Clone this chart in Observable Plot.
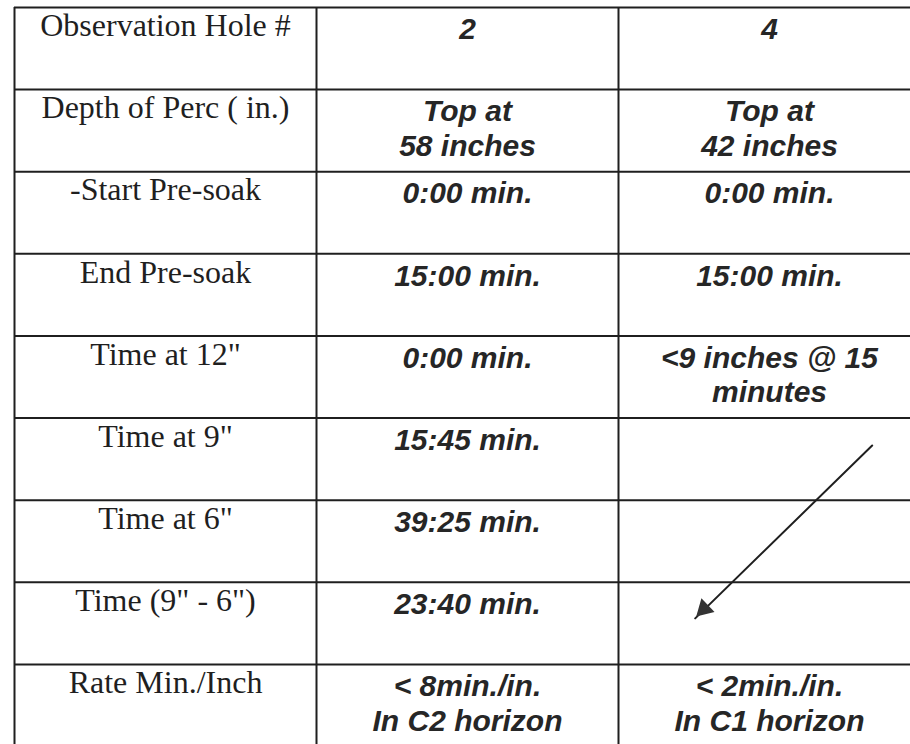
<!DOCTYPE html>
<html>
<head>
<meta charset="utf-8">
<script src="https://cdn.jsdelivr.net/npm/d3@7"></script>
<script src="https://cdn.jsdelivr.net/npm/@observablehq/plot@0.6"></script>
<style>
  html, body { margin: 0; padding: 0; background: #ffffff; }
  svg { display: block; }
</style>
</head>
<body>
<div id="chart"></div>
<script>
// Table content
const rowLabels = [
  "Observation Hole #",
  "Depth of Perc ( in.)",
  "-Start Pre-soak",
  "End Pre-soak",
  "Time at 12\"",
  "Time at 9\"",
  "Time at 6\"",
  "Time (9\" - 6\")",
  "Rate Min./Inch"
];
const hole2 = [
  "2",
  "Top at\n58 inches",
  "0:00 min.",
  "15:00 min.",
  "0:00 min.",
  "15:45 min.",
  "39:25 min.",
  "23:40 min.",
  "< 8min./in.\nIn C2 horizon"
];
const hole4 = [
  "4",
  "Top at\n42 inches",
  "0:00 min.",
  "15:00 min.",
  "<9 inches @ 15\nminutes",
  "",
  "",
  "",
  "< 2min./in.\nIn C1 horizon"
];
// hand-drawn arrow in the hole-4 column (column / row units)
const arrowFrom = {col: 2.84, row: 5.334};
const arrowTo = {col: 2.254, row: 7.44};

const nRows = rowLabels.length;
const colEdges = [0, 1, 2, 3];
const rowEdges = d3.range(nRows + 1);

const labelCells = rowLabels.map((t, i) => ({col: 0.5, row: i, text: t}));
const valueCells = [
  ...hole2.map((t, i) => ({col: 1.5, row: i, text: t})),
  ...hole4.map((t, i) => ({col: 2.5, row: i, text: t}))
].filter(d => d.text !== "");
const arrowData = [{x1: arrowFrom.col, y1: arrowFrom.row, x2: arrowTo.col, y2: arrowTo.row}];

const ink = "#1f1f1f";

const chart = Plot.plot({
  width: 910,
  height: 744,
  margin: 0,
  x: {type: "linear", domain: [0, 3], range: [14, 920], axis: null},
  y: {type: "linear", domain: [0, nRows], range: [7, 746], axis: null},
  style: {background: "#ffffff"},
  marks: [
    Plot.ruleY(rowEdges, {y: d => d, x1: 0, x2: 3, stroke: ink, strokeWidth: 2}),
    Plot.ruleX(colEdges, {x: d => d, y1: 0, y2: nRows, stroke: ink, strokeWidth: 2}),
    Plot.text(labelCells, {
      x: "col", y: "row", text: "text",
      lineAnchor: "top", dy: 6,
      fontFamily: "Liberation Serif", fontSize: 32, letterSpacing: -0.4, fill: ink
    }),
    Plot.text(valueCells, {
      x: "col", y: "row", text: "text",
      lineAnchor: "top", dy: 7, lineHeight: 1.16,
      fontFamily: "Liberation Sans", fontWeight: "bold", fontStyle: "italic",
      fontSize: 30, letterSpacing: -0.5, fill: "#262626"
    }),
    Plot.arrow(arrowData, {
      x1: "x1", y1: "y1", x2: "x2", y2: "y2",
      stroke: ink, strokeWidth: 2, headLength: 0
    }),
    Plot.dot(arrowData, {
      x: d => d.x2 + (d.x1 - d.x2) * 0.05,
      y: d => d.y2 + (d.y1 - d.y2) * 0.055,
      symbol: "triangle2", r: 9, rotate: 226, fill: "#333", stroke: "none"
    })
  ]
});
document.getElementById("chart").appendChild(chart);
</script>
</body>
</html>
